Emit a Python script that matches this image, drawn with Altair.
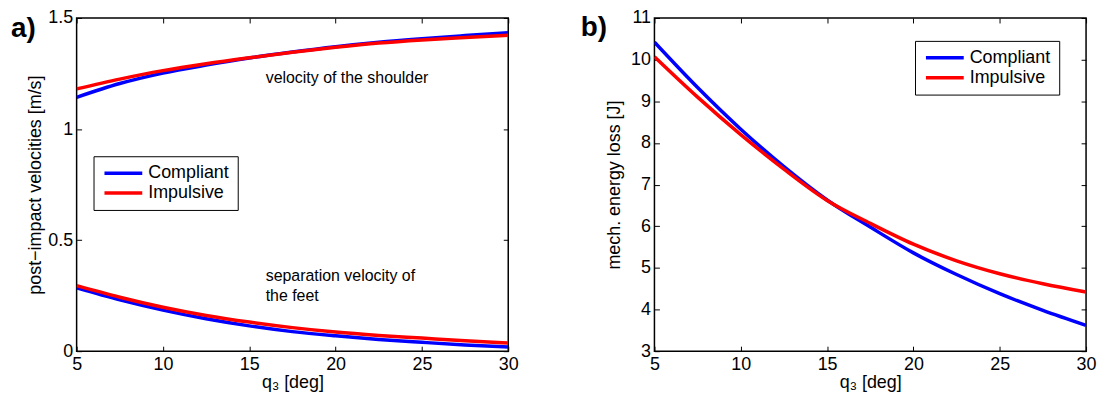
import altair as alt
import pandas as pd

# ---------------- data ----------------
q3 = [5, 7.5, 10, 12.5, 15, 17.5, 20, 22.5, 25, 27.5, 30]

# panel a) post-impact velocities [m/s]
shoulder_compliant = [1.143, 1.205, 1.252, 1.288, 1.320, 1.347, 1.371, 1.391, 1.407, 1.421, 1.434]
shoulder_impulsive = [1.181, 1.225, 1.263, 1.294, 1.321, 1.346, 1.368, 1.387, 1.401, 1.412, 1.422]
feet_compliant = [0.285, 0.231, 0.185, 0.146, 0.114, 0.088, 0.069, 0.053, 0.040, 0.028, 0.019]
feet_impulsive = [0.295, 0.243, 0.198, 0.161, 0.131, 0.106, 0.086, 0.071, 0.059, 0.047, 0.037]

# panel b) mechanical energy loss [J]
energy_compliant = [10.42, 9.33, 8.33, 7.43, 6.63, 5.98, 5.36, 4.84, 4.38, 3.98, 3.62]
energy_impulsive = [10.07, 9.10, 8.20, 7.37, 6.62, 6.07, 5.57, 5.17, 4.86, 4.62, 4.42]

series_names = ["Compliant", "Impulsive"]
series_colors = ["#0000FF", "#FF0000"]
x_ticks = [5, 10, 15, 20, 25, 30]
ya_ticks = [0, 0.5, 1, 1.5]
yb_ticks = [3, 4, 5, 6, 7, 8, 9, 10, 11]

FONT = "Liberation Sans"


def long_df(curves):
    rows = []
    for series, curve, vals in curves:
        for x, v in zip(q3, vals):
            rows.append({"q3": x, "v": v, "series": series, "curve": curve})
    return pd.DataFrame(rows)


df_a = long_df([
    ("Compliant", "shoulder", shoulder_compliant),
    ("Impulsive", "shoulder", shoulder_impulsive),
    ("Compliant", "feet", feet_compliant),
    ("Impulsive", "feet", feet_impulsive),
])
df_b = long_df([
    ("Compliant", "energy", energy_compliant),
    ("Impulsive", "energy", energy_impulsive),
])

W, H = 434, 335
TICK = 5


def panel(df, ydom, yticks, ytitle, ytitle_pad, tag, tag_x, tag_y, leg_x, leg_y, notes):
    xs = alt.Scale(domain=[5, 30], nice=False, zero=False)
    ys = alt.Scale(domain=ydom, nice=False, zero=False)
    base = alt.Chart(df)
    lines = base.mark_line(strokeWidth=3.5, interpolate="monotone", clip=True).encode(
        x=alt.X("q3:Q", scale=xs, axis=alt.Axis(
            values=x_ticks, title="q₃ [deg]", orient="bottom", offset=-TICK,
            tickSize=TICK, domain=False, labelPadding=4, titlePadding=1,
            labelFlush=False)),
        y=alt.Y("v:Q", scale=ys, axis=alt.Axis(
            values=yticks, format="~g", title=ytitle, orient="left", offset=-TICK,
            tickSize=TICK, domain=False, labelPadding=4, titlePadding=ytitle_pad,
            labelFlush=False)),
        color=alt.Color("series:N",
                        scale=alt.Scale(domain=series_names, range=series_colors),
                        legend=alt.Legend(
                            orient="none", legendX=leg_x, legendY=leg_y, title=None,
                            symbolType="M-1.2,0L6.4,0", symbolSize=100, symbolStrokeWidth=3.5,
                            labelFontSize=18, labelFont=FONT, labelColor="black",
                            strokeColor="black", fillColor="white", padding=8,
                            rowPadding=2, labelOffset=29, cornerRadius=0)),
        detail="curve:N",
    )
    box = base.mark_line(opacity=0).encode(
        x=alt.X("q3:Q", scale=xs, axis=alt.Axis(
            values=x_ticks, labels=False, title=None, orient="top", offset=-TICK,
            tickSize=TICK, domain=False)),
        y=alt.Y("v:Q", scale=ys, axis=alt.Axis(
            values=yticks, labels=False, title=None, orient="right", offset=-TICK,
            tickSize=TICK, domain=False)),
        detail="curve:N",
    )
    layers = [lines, box]
    tag_df = pd.DataFrame({"t": [tag]})
    layers.append(alt.Chart(tag_df).mark_text(
        font=FONT, fontSize=28, fontWeight="bold", align="left", baseline="alphabetic",
        color="black").encode(x=alt.value(tag_x), y=alt.value(tag_y), text="t:N"))
    for nx, ny, txt in notes:
        ndf = pd.DataFrame({"q3": [nx], "v": [ny], "t": [txt]})
        layers.append(alt.Chart(ndf).mark_text(
            font=FONT, fontSize=16, align="left", baseline="middle", lineHeight=20,
            color="black").encode(
            x=alt.X("q3:Q", scale=xs, axis=None), y=alt.Y("v:Q", scale=ys, axis=None),
            text="t"))
    return alt.layer(*layers).resolve_axis(x="independent", y="independent").properties(
        width=W, height=H)


pa = panel(df_a, [0, 1.5], ya_ticks, "post−impact velocities [m/s]", 3, "a)", -66, 19, 17, 139,
           [(15.95, 1.232, "velocity of the shoulder"),
            (15.95, 0.34, ["separation velocity of", "the feet"])])
pb = panel(df_b, [3, 11], yb_ticks, "mech. energy loss [J]", 7, "b)", -74, 18.5, 262, 23, [])

chart = alt.hconcat(pa, pb, spacing=147, bounds="flush").resolve_scale(
    color="independent").resolve_legend(color="independent").properties(
    padding={"left": 2, "top": -1, "right": 0, "bottom": 0}
).configure(background="white").configure_view(stroke="black", strokeWidth=1.5).configure_axis(
    labelFont=FONT, labelFontSize=18, labelColor="black",
    titleFont=FONT, titleFontSize=18, titleFontWeight="normal", titleColor="black",
    tickColor="black", tickWidth=1, grid=False,
)

chart.save("out.html", embed_options={"renderer": "svg", "actions": False})
